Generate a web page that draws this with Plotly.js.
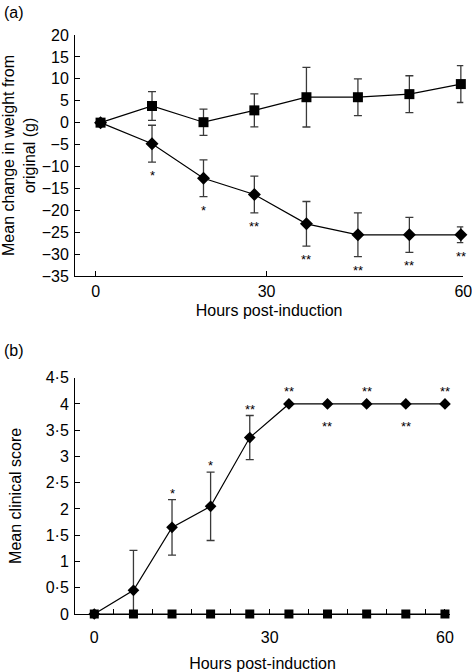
<!DOCTYPE html>
<html>
<head>
<meta charset="utf-8">
<script src="https://cdn.plot.ly/plotly-3.0.1.min.js"></script>
<style>html,body{margin:0;padding:0;background:#fff;}#chart{width:472px;height:672px;}</style>
</head>
<body>
<div id="chart"></div>
<script>
// ---- Panel (a): weight change ----
var hoursA = [0.8, 9.2, 17.6, 25.9, 34.4, 42.8, 51.2, 59.6];
var controlA = [0, 3.8, 0.1, 2.8, 5.8, 5.8, 6.5, 8.8];
var controlAErr = [0, 3.3, 3.0, 3.75, 6.8, 4.2, 4.2, 4.2];
var treatA = [0, -4.8, -12.7, -16.4, -23.1, -25.6, -25.6, -25.6];
var treatAErr = [0, 4.2, 4.2, 4.2, 5.1, 5.0, 4.0, 1.8];
var sigA = ['', '*', '*', '**', '**', '**', '**', '**'];
var xTickValsA = [0, 27.9, 60];
var xTickTextA = ['0', '30', '60'];
var yTickValsA = [20, 15, 10, 5, 0, -5, -10, -15, -20, -25, -30, -35];

// ---- Panel (b): clinical score ----
var hoursB = [0, 6.7, 13.3, 19.9, 26.6, 33.3, 39.9, 46.6, 53.3, 60];
var controlB = [0, 0, 0, 0, 0, 0, 0, 0, 0, 0];
var treatB = [0, 0.45, 1.65, 2.05, 3.36, 4, 4, 4, 4, 4];
var treatBErr = [0, 0.76, 0.53, 0.65, 0.42, 0, 0, 0, 0, 0];
var sigB = ['', '', '*', '*', '**', '**', '**', '**', '**', '**'];
var xTickValsB = [0, 30, 60];
var xTickTextB = ['0', '30', '60'];
var yTickValsB = [0, 0.5, 1, 1.5, 2, 2.5, 3, 3.5, 4, 4.5];
var yTickTextB = ['0', '0·5', '1', '1·5', '2', '2·5', '3', '3·5', '4', '4·5'];

var FONT = 'Liberation Sans, Arial, Helvetica, sans-serif';
var errStyle = {type: 'data', visible: true, color: '#3a3a3a', thickness: 1.3, width: 4};

function errOf(arr) {
  var e = Object.assign({}, errStyle);
  e.array = arr;
  return e;
}

var traces = [
  {x: hoursA, y: treatA, xaxis: 'x', yaxis: 'y', mode: 'lines+markers', type: 'scatter',
   line: {color: '#000', width: 1.2}, marker: {symbol: 'diamond', size: 10, color: '#000'},
   error_y: errOf(treatAErr), cliponaxis: false, showlegend: false},
  {x: hoursA, y: controlA, xaxis: 'x', yaxis: 'y', mode: 'lines+markers', type: 'scatter',
   line: {color: '#000', width: 1.2}, marker: {symbol: 'square', size: 10, color: '#000'},
   error_y: errOf(controlAErr), cliponaxis: false, showlegend: false},
  {x: hoursB, y: treatB, xaxis: 'x2', yaxis: 'y2', mode: 'lines+markers', type: 'scatter',
   line: {color: '#000', width: 1.2}, marker: {symbol: 'diamond', size: 9, color: '#000'},
   error_y: errOf(treatBErr), cliponaxis: false, showlegend: false},
  {x: hoursB, y: controlB, xaxis: 'x2', yaxis: 'y2', mode: 'lines+markers', type: 'scatter',
   line: {color: '#000', width: 1.2}, marker: {symbol: 'square', size: 9, color: '#000'},
   cliponaxis: false, showlegend: false}
];

var STAR = {family: FONT, size: 13, color: '#000'};
var annotations = [];
// significance marks, panel (a): below error bars
for (var i = 0; i < sigA.length; i++) {
  if (!sigA[i]) continue;
  annotations.push({x: hoursA[i], y: treatA[i] - treatAErr[i], xref: 'x', yref: 'y',
    text: sigA[i], showarrow: false, xanchor: 'center', yanchor: 'top', yshift: -4, font: STAR});
}
// significance marks, panel (b)
var sideB = ['', '', 'up', 'up', 'up', 'up', 'down', 'up', 'down', 'up'];
for (var j = 0; j < sigB.length; j++) {
  if (!sigB[j]) continue;
  if (sideB[j] === 'up') {
    annotations.push({x: hoursB[j], y: treatB[j] + treatBErr[j], xref: 'x2', yref: 'y2',
      text: sigB[j], showarrow: false, xanchor: 'center', yanchor: 'bottom',
      yshift: treatBErr[j] > 0 ? -3 : 3, font: STAR});
  } else {
    annotations.push({x: hoursB[j], y: treatB[j], xref: 'x2', yref: 'y2',
      text: sigB[j], showarrow: false, xanchor: 'center', yanchor: 'top', yshift: -13, font: STAR});
  }
}
annotations.push({x: 0.004, y: 1 - 12 / 672, xref: 'paper', yref: 'paper', text: '(a)',
  showarrow: false, xanchor: 'left', yanchor: 'middle', font: {family: FONT, size: 16, color: '#000'}});
annotations.push({x: 0.004, y: 1 - 350 / 672, xref: 'paper', yref: 'paper', text: '(b)',
  showarrow: false, xanchor: 'left', yanchor: 'middle', font: {family: FONT, size: 16, color: '#000'}});

var axisBase = {
  showline: true, linecolor: '#000', linewidth: 1, mirror: false,
  showgrid: false, zeroline: false, ticks: 'inside', ticklen: 5, tickwidth: 1, tickcolor: '#000',
  tickfont: {family: FONT, size: 16, color: '#000'}, fixedrange: true,
  ticklabeloverflow: 'allow'
};
function ax(o) { return Object.assign({}, axisBase, o); }
var TITLE_FONT = {family: FONT, size: 16, color: '#000'};

var layout = {
  width: 472, height: 672,
  margin: {l: 0, r: 0, t: 0, b: 0},
  paper_bgcolor: '#fff', plot_bgcolor: '#fff',
  showlegend: false,
  font: {family: FONT, color: '#000'},
  xaxis: ax({domain: [75 / 472, 463.3 / 472], range: [-3.37, 60], tickmode: 'array',
    tickvals: xTickValsA, ticktext: xTickTextA, anchor: 'y', ticklabelstandoff: 1,
    title: {text: 'Hours post-induction', font: TITLE_FONT, standoff: 5}}),
  yaxis: ax({domain: [1 - 276 / 672, 1 - 35 / 672], range: [-35, 20], tickmode: 'array',
    tickvals: yTickValsA, anchor: 'x', ticklabelstandoff: 2,
    title: {text: 'Mean change in weight from<br>original (g)', font: TITLE_FONT, standoff: 2}}),
  xaxis2: ax({domain: [75 / 472, 450 / 472], range: [-3.3, 60.86], tickmode: 'array',
    tickvals: xTickValsB, ticktext: xTickTextB, anchor: 'y2', ticklabelstandoff: 9,
    minor: {tick0: 3.333, dtick: 6.6667, ticks: 'inside', ticklen: 5, tickcolor: '#000', showgrid: false},
    title: {text: 'Hours post-induction', font: TITLE_FONT, standoff: 12}}),
  yaxis2: ax({domain: [1 - 614 / 672, 1 - 377.7 / 672], range: [0, 4.5], tickmode: 'array',
    tickvals: yTickValsB, ticktext: yTickTextB, anchor: 'x2', ticklabelstandoff: 2,
    title: {text: 'Mean clinical score', font: TITLE_FONT, standoff: 20}}),
  annotations: annotations
};

Plotly.newPlot('chart', traces, layout, {staticPlot: true, displayModeBar: false});
</script>
</body>
</html>
